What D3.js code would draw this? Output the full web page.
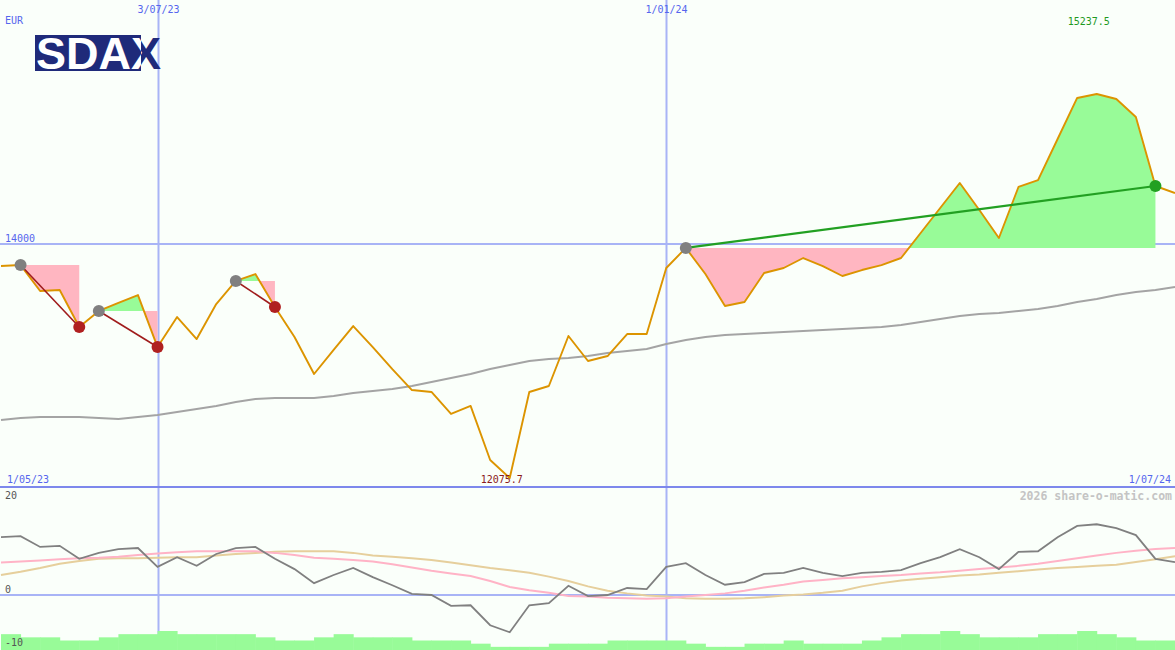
<!DOCTYPE html>
<html><head><meta charset="utf-8">
<script src="https://cdn.jsdelivr.net/npm/d3@7"></script>
<style>html,body{margin:0;padding:0;background:#fafffa;} svg{display:block;}</style>
</head><body><svg id="c" width="1175" height="650"></svg>
<script>
// ---- data ----
const weeks = ["2023-05-08","2023-05-15","2023-05-22","2023-05-29","2023-06-05","2023-06-12","2023-06-19","2023-06-26",
"2023-07-03","2023-07-10","2023-07-17","2023-07-24","2023-07-31","2023-08-07","2023-08-14","2023-08-21","2023-08-28",
"2023-09-04","2023-09-11","2023-09-18","2023-09-25","2023-10-02","2023-10-09","2023-10-16","2023-10-23","2023-10-30",
"2023-11-06","2023-11-13","2023-11-20","2023-11-27","2023-12-04","2023-12-11","2023-12-18","2023-12-25",
"2024-01-01","2024-01-08","2024-01-15","2024-01-22","2024-01-29","2024-02-05","2024-02-12","2024-02-19","2024-02-26",
"2024-03-04","2024-03-11","2024-03-18","2024-03-25","2024-04-01","2024-04-08","2024-04-15","2024-04-22","2024-04-29",
"2024-05-06","2024-05-13","2024-05-20","2024-05-27","2024-06-03","2024-06-10","2024-06-17","2024-06-24","2024-07-01"];
const price = [13821,13829,13615,13624,13319,13451,13517,13582,13154,13401,13220,13508,13698,13755,13484,13237,12932,
13130,13327,13154,12973,12800,12784,12603,12669,12224,12075.7,12784,12833,13245,13039,13080,13261,13261,
13805,13970,13755,13492,13525,13764,13805,13887,13821,13739,13788,13829,13887,14093,14299,14505,14282,14052,
14472,14529,14867,15205,15237.5,15196,15048,14480,14422];
const movingAvg = [12553,12570,12578,12578,12578,12570,12561,12578,12594,12619,12644,12669,12701,12726,12734,12734,12734,
12751,12776,12792,12808,12833,12866,12899,12932,12973,13006,13039,13055,13064,13080,13105,13121,13138,
13179,13212,13237,13253,13261,13270,13278,13286,13294,13302,13311,13319,13335,13360,13385,13410,13426,13434,
13451,13467,13492,13525,13550,13582,13607,13624,13648];
const oscillator = [10.7,10.9,8.9,9.1,6.7,7.8,8.5,8.7,5.2,7.0,5.4,7.6,8.7,8.9,6.7,4.8,2.2,3.7,5.0,3.3,1.8,0.2,0.0,-2.0,-1.9,
-5.6,-6.9,-1.9,-1.5,1.7,-0.2,0.0,1.3,1.1,5.2,5.9,3.7,1.9,2.4,3.9,4.1,5.0,4.1,3.5,4.1,4.3,4.6,5.9,7.0,8.5,7.0,4.8,
8.0,8.1,10.7,12.8,13.1,12.4,11.1,6.7,6.1];
const signalPink = [6.0,6.2,6.4,6.6,6.8,6.9,7.1,7.4,7.7,7.9,8.1,8.1,8.1,8.1,7.8,7.4,6.9,6.7,6.5,6.2,5.7,5.1,4.5,4.0,3.5,
2.6,1.5,0.9,0.4,-0.2,-0.3,-0.5,-0.6,-0.7,-0.6,-0.3,0.0,0.3,0.8,1.4,1.9,2.5,2.8,3.1,3.3,3.5,3.7,4.0,4.2,4.5,4.8,5.1,
5.4,5.8,6.3,6.8,7.3,7.8,8.2,8.5,8.7];
const signalTan = [3.7,4.3,5.0,5.8,6.3,6.7,6.8,6.8,6.9,7.0,7.0,7.3,7.6,7.8,8.0,8.1,8.1,8.1,7.8,7.3,7.1,6.8,6.5,6.0,5.5,
5.0,4.6,4.1,3.4,2.6,1.6,0.8,0.3,-0.1,-0.3,-0.6,-0.7,-0.7,-0.6,-0.4,-0.1,0.1,0.4,0.8,1.6,2.2,2.7,3.0,3.3,3.6,3.8,4.1,
4.4,4.7,5.0,5.2,5.4,5.6,6.1,6.6,7.2];
const volumeLevel = [5,4,4,3,3,4,5,5,6,5,5,5,5,4,3,3,4,5,4,4,4,3,3,3,2,1,1,1,2,2,2,3,3,3,3,2,1,1,2,2,3,2,2,2,3,4,5,5,6,5,
4,4,4,5,5,6,5,4,3,3];
const tradeEntry = ["2023-05-15","2023-06-12","2023-07-31","2024-01-08"];
const tradeExit  = ["2023-06-05","2023-07-03","2023-08-14","2024-06-24"];
const tradeWin   = [false,false,false,true];
const dateGrid = ["2023-07-03","2024-01-01"];
const dateGridLabels = ["3/07/23","1/01/24"];
const priceGrid = [14000];
const oscGrid = [0];
const oscLabels = [20,0,-10];
const rangeLabels = ["1/05/23","1/07/24"];
const currency = "EUR";
const title = "SDAX";
const credit = "2026 share-o-matic.com";

// ---- drawing ----
const W = 1175, H = 650;
const svg = d3.select("#c");
const defs = svg.append("defs");
const parse = d3.utcParse("%Y-%m-%d");
const dates = weeks.map(parse);
const x = d3.scaleUtc().domain([dates[0], dates[dates.length-1]]).range([1, 1175]);
const y = d3.scaleLinear().domain([d3.min(price), d3.max(price)]).range([478, 94]);
const yo = d3.scaleLinear().domain([-10, 20]).range([649, 487]);
const yv = d3.scaleLinear().domain([0, 6]).range([650, 631]);
const mono = "'DejaVu Sans Mono', monospace";
const blue = "#5566ee";

svg.append("rect").attr("width", W).attr("height", H).attr("fill", "#fafffa");

// vertical date grid
dateGrid.forEach((d, k) => {
  const xv = Math.round(x(parse(d))) + 0.5;
  svg.append("line").attr("x1", xv).attr("x2", xv).attr("y1", 0).attr("y2", H)
    .attr("stroke", "#a8b4f6").attr("stroke-width", 2);
  svg.append("text").attr("x", xv).attr("y", 13).attr("text-anchor", "middle")
    .attr("font-family", mono).attr("font-size", 10).attr("fill", blue).text(dateGridLabels[k]);
});
// price grid
priceGrid.forEach(v => {
  const yy = Math.round(y(v));
  svg.append("line").attr("x1", 0).attr("x2", W).attr("y1", yy).attr("y2", yy)
    .attr("stroke", "#a8b4f6").attr("stroke-width", 2);
  svg.append("text").attr("x", 5).attr("y", yy - 2).attr("font-family", mono).attr("font-size", 10)
    .attr("fill", blue).text(v);
});
// panel separator
svg.append("line").attr("x1", 0).attr("x2", W).attr("y1", yo(20)).attr("y2", yo(20))
  .attr("stroke", "#7d88ec").attr("stroke-width", 2);
oscGrid.forEach(v => {
  svg.append("line").attr("x1", 0).attr("x2", W).attr("y1", yo(v)).attr("y2", yo(v))
    .attr("stroke", "#a8b4f6").attr("stroke-width", 2);
});

// logo
const logo = svg.append("g");
defs.append("clipPath").attr("id", "logoIn").append("rect").attr("x", 35).attr("y", 35).attr("width", 106).attr("height", 36);
defs.append("clipPath").attr("id", "logoOut").append("path")
  .attr("d", "M0,0H175V80H0Z M35,35V71H141V35Z").attr("clip-rule", "evenodd");
logo.append("rect").attr("x", 35).attr("y", 35).attr("width", 106).attr("height", 36).attr("fill", "#1f2a7a");
logo.append("text").attr("x", 36).attr("y", 69).attr("font-family", "'Liberation Sans', Arial, sans-serif")
  .attr("font-weight", "bold").attr("font-size", 45).attr("fill", "#ffffff").attr("clip-path", "url(#logoIn)").text(title);
logo.append("text").attr("x", 36).attr("y", 69).attr("font-family", "'Liberation Sans', Arial, sans-serif")
  .attr("font-weight", "bold").attr("font-size", 45).attr("fill", "#1f2a7a").attr("clip-path", "url(#logoOut)").text(title);

svg.append("text").attr("x", 5).attr("y", 24).attr("font-family", mono).attr("font-size", 10)
  .attr("fill", blue).text(currency);

// trade fills
const idx = d => weeks.indexOf(d);
tradeEntry.forEach((e, k) => {
  const i0 = idx(e), i1 = idx(tradeExit[k]);
  const seg = d3.range(i0, i1 + 1);
  const base = y(price[i0]);
  const area = d3.area().x(i => x(dates[i])).y0(base).y1(i => y(price[i]));
  defs.append("clipPath").attr("id", "up" + k).append("rect").attr("x", 0).attr("y", 0).attr("width", W).attr("height", base);
  defs.append("clipPath").attr("id", "dn" + k).append("rect").attr("x", 0).attr("y", base).attr("width", W).attr("height", H - base);
  svg.append("path").datum(seg).attr("d", area).attr("fill", "#98fb98").attr("clip-path", `url(#up${k})`);
  svg.append("path").datum(seg).attr("d", area).attr("fill", "#ffb6c1").attr("clip-path", `url(#dn${k})`);
});

// moving average
const line = arr => d3.line().x((d, i) => x(dates[i])).y(d => y(d))(arr);
svg.append("path").attr("d", line(movingAvg)).attr("fill", "none").attr("stroke", "#a4a4a4").attr("stroke-width", 2);
// price
svg.append("path").attr("d", line(price)).attr("fill", "none").attr("stroke", "#dc9400").attr("stroke-width", 1.9)
  .attr("stroke-linejoin", "round");

// trade lines + markers
tradeEntry.forEach((e, k) => {
  const i0 = idx(e), i1 = idx(tradeExit[k]);
  svg.append("line").attr("x1", x(dates[i0])).attr("y1", y(price[i0])).attr("x2", x(dates[i1])).attr("y2", y(price[i1]))
    .attr("stroke", tradeWin[k] ? "#22a022" : "#a01c1c").attr("stroke-width", tradeWin[k] ? 2.2 : 1.6);
});
tradeEntry.forEach((e, k) => {
  const i0 = idx(e), i1 = idx(tradeExit[k]);
  svg.append("circle").attr("cx", x(dates[i0])).attr("cy", y(price[i0])).attr("r", 6).attr("fill", "#808080");
  svg.append("circle").attr("cx", x(dates[i1])).attr("cy", y(price[i1])).attr("r", 6)
    .attr("fill", tradeWin[k] ? "#22a022" : "#b02020");
});

// min / max labels
const iMin = price.indexOf(d3.min(price)), iMax = price.indexOf(d3.max(price));
svg.append("text").attr("x", x(dates[iMin]) - 8).attr("y", 483).attr("text-anchor", "middle")
  .attr("font-family", mono).attr("font-size", 10).attr("fill", "#8b1a1a").text(d3.min(price).toFixed(1));
svg.append("text").attr("x", x(dates[iMax]) - 8).attr("y", 25).attr("text-anchor", "middle")
  .attr("font-family", mono).attr("font-size", 10).attr("fill", "#1f9a1f").text(d3.max(price).toFixed(1));
svg.append("text").attr("x", 7).attr("y", 483).attr("font-family", mono).attr("font-size", 10).attr("fill", blue).text(rangeLabels[0]);
svg.append("text").attr("x", 1171).attr("y", 483).attr("text-anchor", "end").attr("font-family", mono).attr("font-size", 10)
  .attr("fill", blue).text(rangeLabels[1]);

// lower panel
const oline = arr => d3.line().x((d, i) => x(dates[i])).y(d => yo(d))(arr);
svg.append("path").attr("d", oline(signalTan)).attr("fill", "none").attr("stroke", "#e6cf9c").attr("stroke-width", 2);
svg.append("path").attr("d", oline(signalPink)).attr("fill", "none").attr("stroke", "#ffb3c6").attr("stroke-width", 2);
svg.append("path").attr("d", oline(oscillator)).attr("fill", "none").attr("stroke", "#808080").attr("stroke-width", 1.8);

// volume bars
svg.append("g").selectAll("rect").data(volumeLevel).join("rect")
  .attr("x", (d, i) => x(dates[i]))
  .attr("width", (d, i) => x(dates[i + 1]) - x(dates[i]) + 0.5)
  .attr("y", d => yv(d)).attr("height", d => yv(0) - yv(d)).attr("fill", "#98fb98");

const oscLabelDy = {"20": 12, "0": -2, "-10": -3};
oscLabels.forEach(v => {
  svg.append("text").attr("x", 5).attr("y", yo(v) + oscLabelDy[String(v)])
    .attr("font-family", mono).attr("font-size", 10).attr("fill", "#555").text(v);
});
svg.append("text").attr("x", 1172).attr("y", 500).attr("text-anchor", "end").attr("font-family", mono)
  .attr("font-size", 11.5).attr("font-weight", "bold").attr("fill", "#c4c4c4").text(credit);
</script></body></html>
